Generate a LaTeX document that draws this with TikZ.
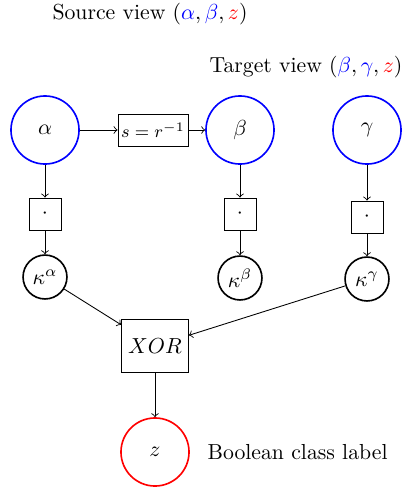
\documentclass[tikz,border=0pt]{standalone}
\begin{document}
\begin{tikzpicture}[x=0.46pt,y=-0.46pt,
  bigc/.style={circle,draw=blue,line width=0.75pt,minimum size=31.3pt,inner sep=0pt},
  redc/.style={circle,draw=red,line width=0.75pt,minimum size=31.3pt,inner sep=0pt},
  kc/.style={circle,draw=black,line width=0.75pt,minimum size=20.2pt,inner sep=0pt},
  dotbox/.style={rectangle,draw,minimum size=14.7pt,inner sep=0pt},
  arr/.style={->}]
\useasboundingbox (0,0) rectangle (402,491);
\node (src) at (150,14) {Source view $(\textcolor{blue}{\alpha},\textcolor{blue}{\beta},\textcolor{red}{z})$};
\node (tgt) at (306,67) {Target view $(\textcolor{blue}{\beta},\textcolor{blue}{\gamma},\textcolor{red}{z})$};
\node[bigc] (a) at (45,130) {$\alpha$};
\node[bigc] (b) at (240,130) {$\beta$};
\node[bigc] (g) at (367,130) {$\gamma$};
\node[draw,minimum width=32.2pt,minimum height=14.7pt,inner sep=0pt,font=\footnotesize] (s) at (153,130) {$s=r^{-1}$};
\node[dotbox] (da) at (45,214) {$\cdot$};
\node[dotbox] (db) at (240,214) {$\cdot$};
\node[dotbox] (dg) at (367,217) {$\cdot$};
\node[kc] (ka) at (45,277) {$\kappa^{\alpha}$};
\node[kc] (kb) at (240,278) {$\kappa^{\beta}$};
\node[kc] (kg) at (367,279) {$\kappa^{\gamma}$};
\node[draw,minimum width=30.8pt,minimum height=24.4pt,inner sep=0pt] (x) at (155,346) {$XOR$};
\node[redc] (z) at (155,452) {$z$};
\node[anchor=west] (lbl) at (200,452) {Boolean class label};
\draw[arr] (a) -- (s);
\draw[arr] (s) -- (b);
\draw[arr] (a) -- (da);
\draw[arr] (b) -- (db);
\draw[arr] (g) -- (dg);
\draw[arr] (da) -- (ka);
\draw[arr] (db) -- (kb);
\draw[arr] (dg) -- (kg);
\draw[arr] (ka) -- (x);
\draw[arr] (kg) -- (x);
\draw[arr] (x) -- (z);
\end{tikzpicture}
\end{document}
